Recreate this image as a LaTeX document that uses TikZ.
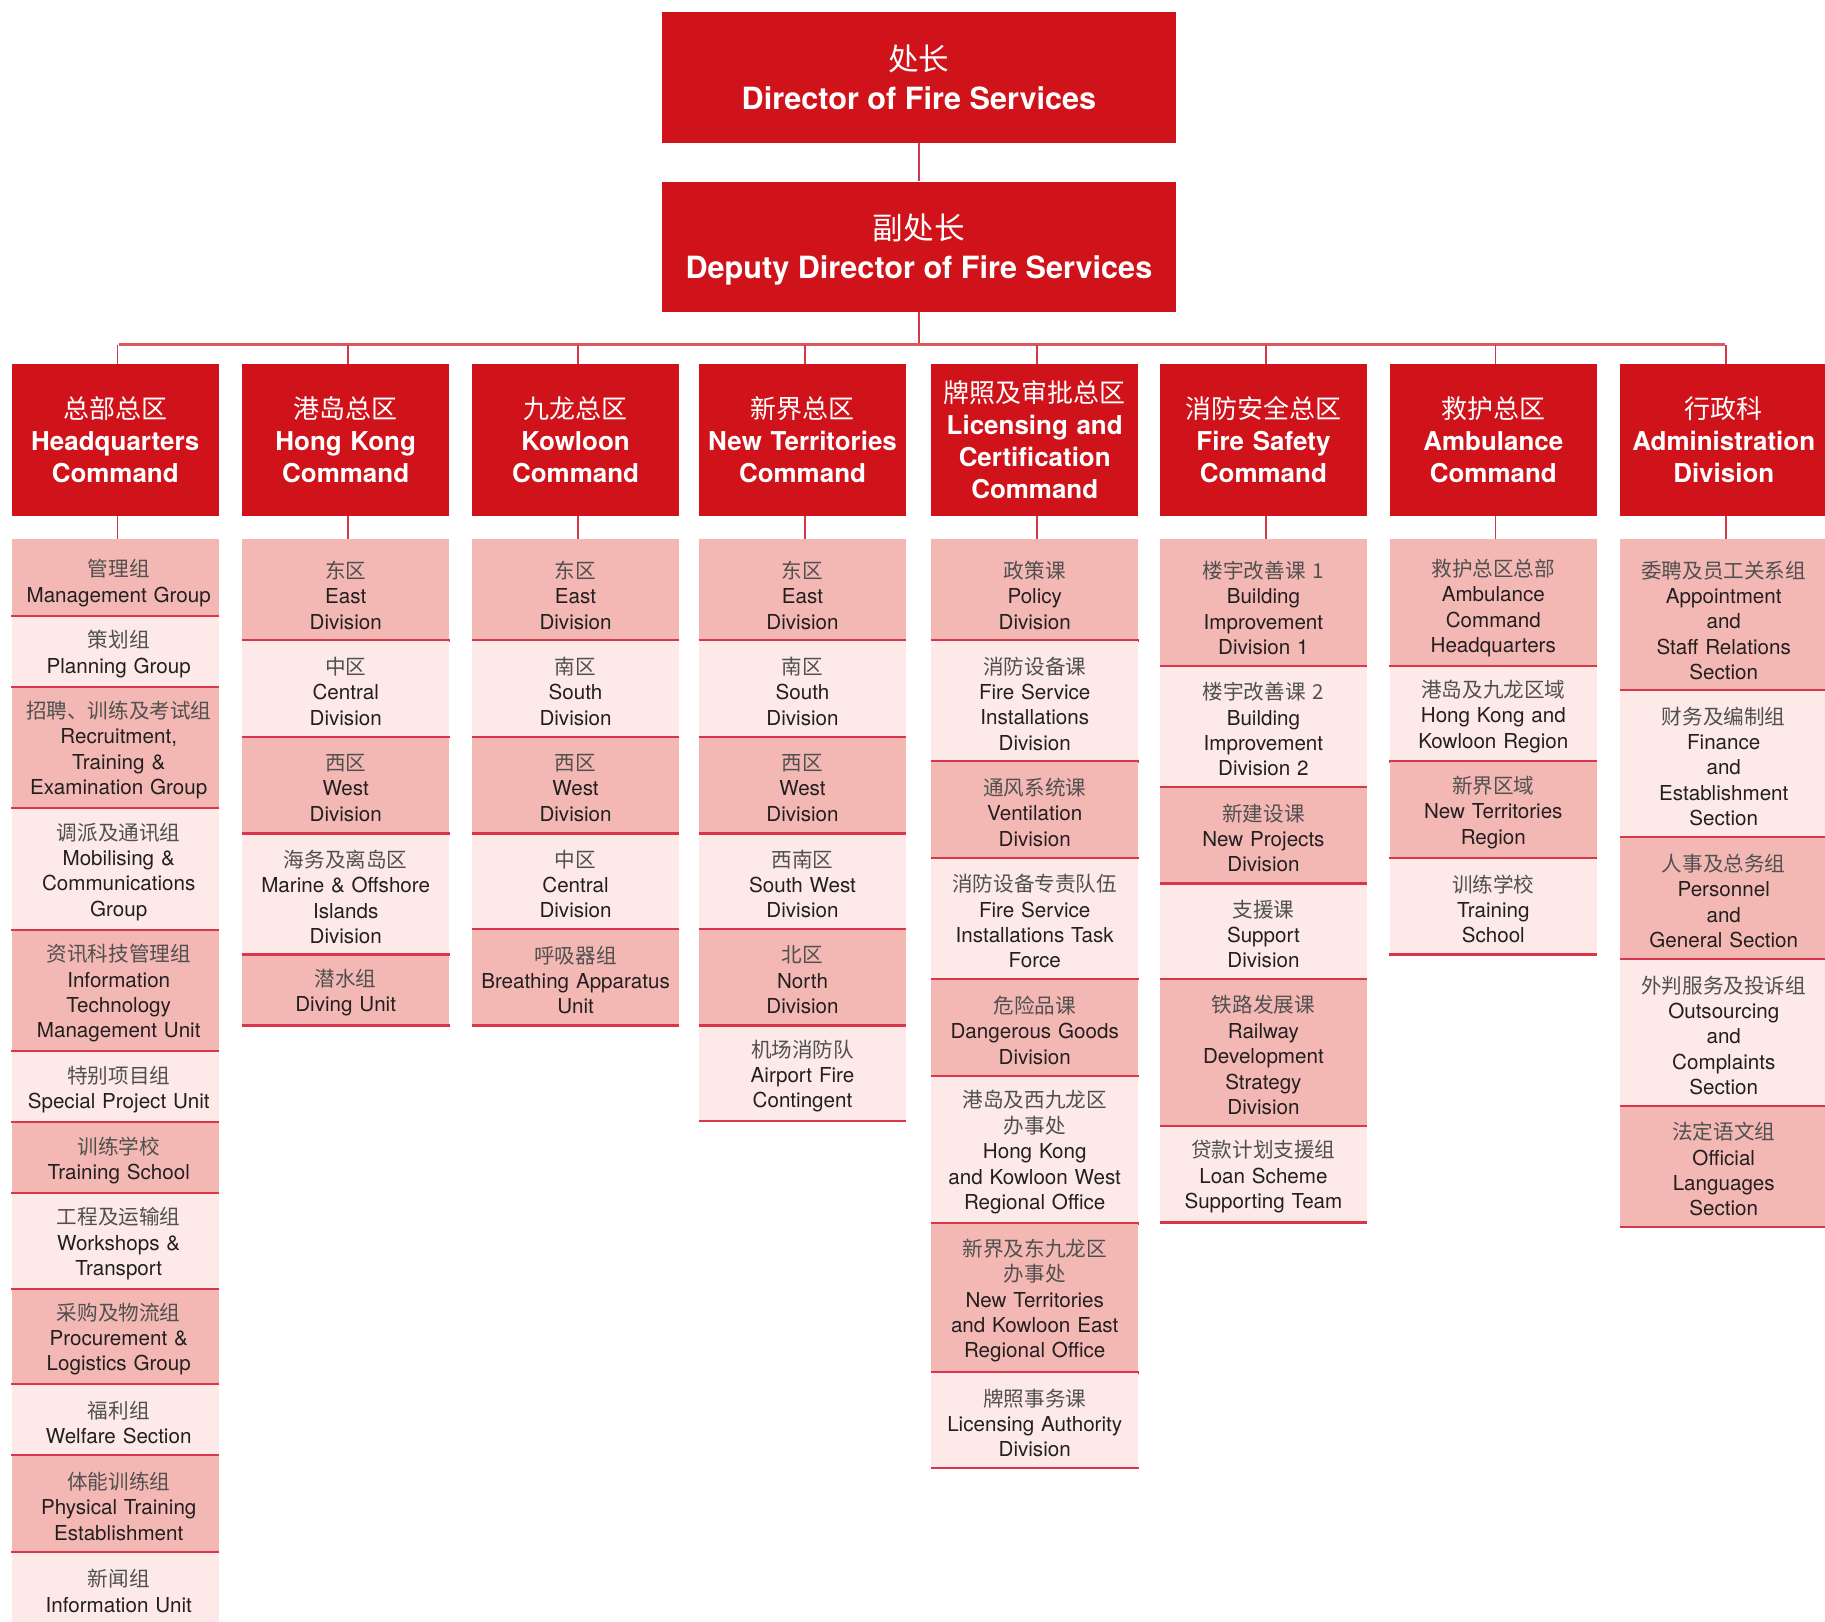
\documentclass[tikz,border=0pt]{standalone}
\usepackage{fontspec}
\setmainfont{TeX Gyre Heros}
\newfontfamily\cjk{Noto Sans CJK SC}
\definecolor{fsred}{HTML}{D0121B}
\definecolor{pinkD}{HTML}{F4B8B4}
\definecolor{pinkL}{HTML}{FDE9E8}
\definecolor{sepred}{HTML}{D9354B}
\definecolor{linered}{HTML}{D43A45}
\definecolor{busred}{HTML}{DA5860}
\definecolor{txt}{HTML}{231F20}
\definecolor{zhgray}{HTML}{505050}
\newcommand\zh[1]{{\cjk\color{zhgray}#1}}
\newcommand\zhh[1]{{\cjk\mdseries #1}}
\newcommand\txoff{0}
\tikzset{
  hdr/.style={rectangle, fill=fsred, text=white, inner sep=0, minimum width=178, minimum height=130, text width=176, align=center, font=\bfseries\fontsize{22.3}{27.6}\selectfont},
  topbox/.style={rectangle, fill=fsred, inner sep=0, minimum width=441, minimum height=113},
  toptext/.style={inner sep=0, text=white, align=center, font=\bfseries\fontsize{26.3}{33}\selectfont},
  ubox/.style={rectangle, inner sep=0, minimum width=178, draw=none},
  pinkdark/.style={fill=pinkD},
  pinklight/.style={fill=pinkL},
  utext/.style={inner sep=0, text width=178, align=center, font=\fontsize{17.7}{21.8}\selectfont, text=txt},
  sep/.style={draw=sepred, line width=2},
  conn/.style={draw=linered, line width=1.3},
  busline/.style={draw=busred, line width=2},
}
% name, x, boxtop, texttop, bottom, style, text
\newcommand\ub[7]{%
  \node[ubox,#6,minimum height={#5-#3}] (#1) at (#2,{(#3+#5)/2}) {};
  \node[utext] (#1t) at ({#2+\txoff},{(#4+#5)/2+1.5}) {#7};
  \draw[sep] ([yshift=1]#1.south west) -- ([yshift=1]#1.south east);}
\begin{document}
\begin{tikzpicture}[x=1pt,y=-1pt]
\useasboundingbox (0,0) rectangle (1568,1393);
% top
\node[topbox] (dir) at (789.5,66.5) {};
\node[toptext] (dirt) at (789.5,66.5) {\zhh{处长}\\Director of Fire Services};
\node[topbox, minimum height=112] (dep) at (789.5,212) {};
\node[toptext] (dept) at (789.5,214.5) {\zhh{副处长}\\Deputy Director of Fire Services};
\draw[conn] (dir.south) -- (dep.north);
\coordinate (busL) at (102,296);
\coordinate (busR) at (1482,296);
\draw[conn] (dep.south) -- (dep.south |- busL);
\draw[busline] (busL) -- (busR);
% headers
\node[hdr] (h1) at (99,378) {\zhh{总部总区}\\Headquarters\\Command};
\node[hdr] (h2) at (297,378) {\zhh{港岛总区}\\Hong Kong\\Command};
\node[hdr] (h3) at (494.5,378) {\zhh{九龙总区}\\Kowloon\\Command};
\node[hdr] (h4) at (689.5,378) {\zhh{新界总区}\\New Territories\\Command};
\node[hdr] (h5) at (889,378) {\zhh{牌照及审批总区}\\Licensing and\\Certification\\Command};
\node[hdr] (h6) at (1085.5,378) {\zhh{消防安全总区}\\Fire Safety\\Command};
\node[hdr] (h7) at (1283,378) {\zhh{救护总区}\\Ambulance\\Command};
\node[hdr] (h8) at (1481,378) {\zhh{行政科}\\Administration\\Division};
% column 1
\renewcommand\txoff{3}
\ub{c1a}{99}{463}{469}{530}{pinkdark}{\zh{管理组}\\Management Group}
\ub{c1b}{99}{530}{530}{591}{pinklight}{\zh{策划组}\\Planning Group}
\ub{c1c}{99}{591}{591}{695}{pinkdark}{\zh{招聘、训练及考试组}\\Recruitment,\\Training \&\\Examination Group}
\ub{c1d}{99}{695}{695}{800}{pinklight}{\zh{调派及通讯组}\\Mobilising \&\\Communications\\Group}
\ub{c1e}{99}{800}{800}{904}{pinkdark}{\zh{资讯科技管理组}\\Information\\Technology\\Management Unit}
\ub{c1f}{99}{904}{904}{965}{pinklight}{\zh{特别项目组}\\Special Project Unit}
\ub{c1g}{99}{965}{965}{1026}{pinkdark}{\zh{训练学校}\\Training School}
\ub{c1h}{99}{1026}{1026}{1108}{pinklight}{\zh{工程及运输组}\\Workshops \&\\Transport}
\ub{c1i}{99}{1108}{1108}{1190}{pinkdark}{\zh{采购及物流组}\\Procurement \&\\Logistics Group}
\ub{c1j}{99}{1190}{1190}{1251}{pinklight}{\zh{福利组}\\Welfare Section}
\ub{c1k}{99}{1251}{1251}{1334}{pinkdark}{\zh{体能训练组}\\Physical Training\\Establishment}
\ub{c1l}{99}{1334}{1334}{1397}{pinklight}{\zh{新闻组}\\Information Unit}
\renewcommand\txoff{0}
% column 2
\ub{c2a}{297}{463}{469}{551}{pinkdark}{\zh{东区}\\East\\Division}
\ub{c2b}{297}{551}{551}{634}{pinklight}{\zh{中区}\\Central\\Division}
\ub{c2c}{297}{634}{634}{717}{pinkdark}{\zh{西区}\\West\\Division}
\ub{c2d}{297}{717}{717}{821}{pinklight}{\zh{海务及离岛区}\\Marine \& Offshore\\Islands\\Division}
\ub{c2e}{297}{821}{821}{882}{pinkdark}{\zh{潜水组}\\Diving Unit}
% column 3
\ub{c3a}{494.5}{463}{469}{551}{pinkdark}{\zh{东区}\\East\\Division}
\ub{c3b}{494.5}{551}{551}{634}{pinklight}{\zh{南区}\\South\\Division}
\ub{c3c}{494.5}{634}{634}{717}{pinkdark}{\zh{西区}\\West\\Division}
\ub{c3d}{494.5}{717}{717}{799}{pinklight}{\zh{中区}\\Central\\Division}
\ub{c3e}{494.5}{799}{799}{882}{pinkdark}{\zh{呼吸器组}\\Breathing Apparatus\\Unit}
% column 4
\ub{c4a}{689.5}{463}{469}{551}{pinkdark}{\zh{东区}\\East\\Division}
\ub{c4b}{689.5}{551}{551}{634}{pinklight}{\zh{南区}\\South\\Division}
\ub{c4c}{689.5}{634}{634}{717}{pinkdark}{\zh{西区}\\West\\Division}
\ub{c4d}{689.5}{717}{717}{799}{pinklight}{\zh{西南区}\\South West\\Division}
\ub{c4e}{689.5}{799}{799}{882}{pinkdark}{\zh{北区}\\North\\Division}
\ub{c4f}{689.5}{882}{882}{964}{pinklight}{\zh{机场消防队}\\Airport Fire\\Contingent}
% column 5
\ub{c5a}{889}{463}{469}{551}{pinkdark}{\zh{政策课}\\Policy\\Division}
\ub{c5b}{889}{551}{551}{655}{pinklight}{\zh{消防设备课}\\Fire Service\\Installations\\Division}
\ub{c5c}{889}{655}{655}{738}{pinkdark}{\zh{通风系统课}\\Ventilation\\Division}
\ub{c5d}{889}{738}{738}{842}{pinklight}{\zh{消防设备专责队伍}\\Fire Service\\Installations Task\\Force}
\ub{c5e}{889}{842}{842}{925}{pinkdark}{\zh{危险品课}\\Dangerous Goods\\Division}
\ub{c5f}{889}{925}{925}{1052}{pinklight}{\zh{港岛及西九龙区}\\\zh{办事处}\\Hong Kong\\and Kowloon West\\Regional Office}
\ub{c5g}{889}{1052}{1052}{1180}{pinkdark}{\zh{新界及东九龙区}\\\zh{办事处}\\New Territories\\and Kowloon East\\Regional Office}
\ub{c5h}{889}{1180}{1180}{1262}{pinklight}{\zh{牌照事务课}\\Licensing Authority\\Division}
% column 6
\ub{c6a}{1085.5}{463}{469}{573}{pinkdark}{\zh{楼宇改善课 1}\\Building\\Improvement\\Division 1}
\ub{c6b}{1085.5}{573}{573}{677}{pinklight}{\zh{楼宇改善课 2}\\Building\\Improvement\\Division 2}
\ub{c6c}{1085.5}{677}{677}{760}{pinkdark}{\zh{新建设课}\\New Projects\\Division}
\ub{c6d}{1085.5}{760}{760}{842}{pinklight}{\zh{支援课}\\Support\\Division}
\ub{c6e}{1085.5}{842}{842}{968}{pinkdark}{\zh{铁路发展课}\\Railway\\Development\\Strategy\\Division}
\ub{c6f}{1085.5}{968}{968}{1051}{pinklight}{\zh{贷款计划支援组}\\Loan Scheme\\Supporting Team}
% column 7
\ub{c7a}{1283}{463}{469}{573}{pinkdark}{\zh{救护总区总部}\\Ambulance\\Command\\Headquarters}
\ub{c7b}{1283}{573}{573}{655}{pinklight}{\zh{港岛及九龙区域}\\Hong Kong and\\Kowloon Region}
\ub{c7c}{1283}{655}{655}{738}{pinkdark}{\zh{新界区域}\\New Territories\\Region}
\ub{c7d}{1283}{738}{738}{821}{pinklight}{\zh{训练学校}\\Training\\School}
% column 8
\ub{c8a}{1481}{463}{469}{594}{pinkdark}{\zh{委聘及员工关系组}\\Appointment\\and\\Staff Relations\\Section}
\ub{c8b}{1481}{594}{594}{720}{pinklight}{\zh{财务及编制组}\\Finance\\and\\Establishment\\Section}
\ub{c8c}{1481}{720}{720}{825}{pinkdark}{\zh{人事及总务组}\\Personnel\\and\\General Section}
\ub{c8d}{1481}{825}{825}{951}{pinklight}{\zh{外判服务及投诉组}\\Outsourcing\\and\\Complaints\\Section}
\ub{c8e}{1481}{951}{951}{1055}{pinkdark}{\zh{法定语文组}\\Official\\Languages\\Section}
% connectors
\foreach \i in {1,...,8}{
  \draw[conn] ([xshift=2]h\i.north |- busL) -- ([xshift=2]h\i.north);
  \draw[conn] ([xshift=2]h\i.south) -- ([xshift=2]c\i a.north);
}
\end{tikzpicture}
\end{document}
